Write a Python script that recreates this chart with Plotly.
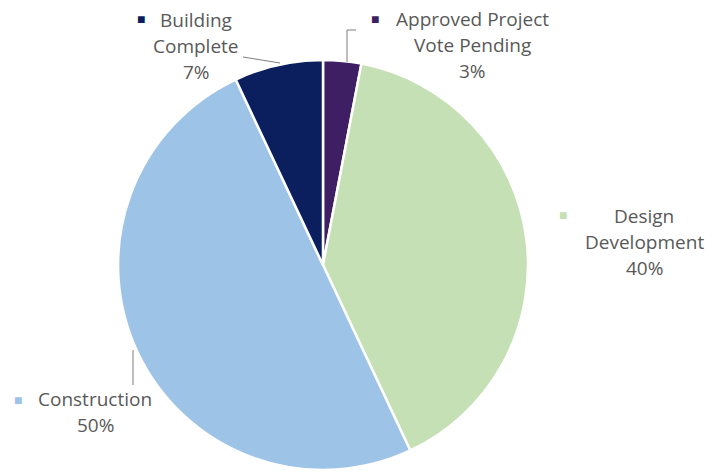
import plotly.graph_objects as go

# Data
categories = ["Approved Project Vote Pending", "Design Development", "Construction", "Building Complete"]
values = [3, 40, 50, 7]
colors = ["#3f1f63", "#c5e0b4", "#9dc3e6", "#0b1f5e"]
label_lines = [["Approved Project", "Vote Pending", "3%"],
               ["Design", "Development", "40%"],
               ["Construction", "50%"],
               ["Building", "Complete", "7%"]]

W, H = 722, 475

def px(x, y):
    return x / W, 1 - y / H

fig = go.Figure(go.Pie(
    labels=categories, values=values, sort=False, direction="clockwise", rotation=0,
    marker=dict(colors=colors, line=dict(color="white", width=2.5)),
    textinfo="none", hoverinfo="label+percent", showlegend=False,
    domain=dict(x=[118 / W, 528 / W], y=[1 - 470 / H, 1 - 60 / H]),
))

font = dict(family="Open Sans, Noto Sans, sans-serif", size=19, color="#595959")

# label block layout: (marker x, marker y, text center x, first line y)
blocks = [(375, 18, 472, 19), (563, 214, 644, 216), (18, 399, 95, 399), (141, 18, 196, 20)]
line_gap = 26
anns = []
for (mx, my, tx, ty), lines, col in zip(blocks, label_lines, colors):
    ax, ay = px(mx, my)
    anns.append(dict(x=ax, y=ay, xref="paper", yref="paper", text="■", showarrow=False,
                     font=dict(size=14, color=col), xanchor="center", yanchor="middle"))
    for i, t in enumerate(lines):
        lx, ly = px(tx, ty + i * line_gap)
        anns.append(dict(x=lx, y=ly, xref="paper", yref="paper", text=t, showarrow=False,
                         font=font, xanchor="center", yanchor="middle"))

leader = dict(color="#7f7f7f", width=1)
shapes = []
def seg(x0, y0, x1, y1):
    a, b = px(x0, y0)
    c, d = px(x1, y1)
    shapes.append(dict(type="line", xref="paper", yref="paper", x0=a, y0=b, x1=c, y1=d, line=leader))

seg(347, 62, 347, 30)
seg(347, 30, 356, 30)
seg(243, 57, 280, 63)
seg(133, 350, 133, 385)

fig.update_layout(width=W, height=H, margin=dict(l=0, r=0, t=0, b=0),
                  paper_bgcolor="white", plot_bgcolor="white",
                  annotations=anns, shapes=shapes)
fig.write_html("out.html", config={"displayModeBar": False},
               post_script="document.body.style.margin='0';document.body.style.overflow='hidden';")
